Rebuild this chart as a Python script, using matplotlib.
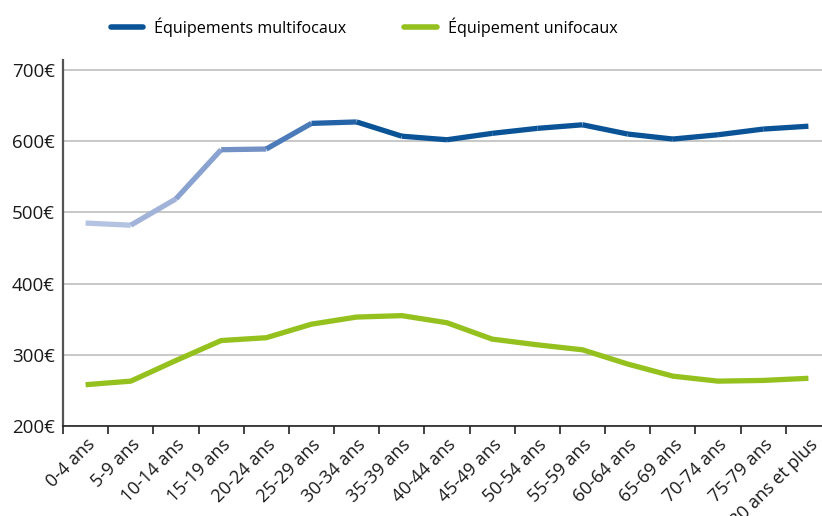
import matplotlib
matplotlib.use("Agg")
import matplotlib.pyplot as plt
from matplotlib.lines import Line2D

categories = ["0-4 ans", "5-9 ans", "10-14 ans", "15-19 ans", "20-24 ans", "25-29 ans",
              "30-34 ans", "35-39 ans", "40-44 ans", "45-49 ans", "50-54 ans", "55-59 ans",
              "60-64 ans", "65-69 ans", "70-74 ans", "75-79 ans", "80 ans et plus"]
multifocaux = [485, 482, 519, 588, 589, 625, 627, 607, 602, 611, 618, 623, 610, 603, 609, 617, 621]
unifocaux = [258, 263, 292, 320, 324, 343, 353, 355, 345, 322, 314, 307, 287, 270, 263, 264, 267]
yticks = [200, 300, 400, 500, 600, 700]
ytick_labels = ["200€", "300€", "400€", "500€", "600€", "700€"]
series_names = ["Équipements multifocaux", "Équipement unifocaux"]

dark_blue = "#0a5396"
green = "#95c11f"
seg_colors = ["#b4c3e1", "#a1b3d9", "#8aa2cf", "#7391c5", "#4b7bb9", "#2563a7"]

plt.rcParams['font.family'] = ['Open Sans', 'DejaVu Sans']

fig = plt.figure(figsize=(8.22, 5.16), dpi=100)
ax = fig.add_axes([63/822, 1-426/516, (831-63)/822, (426-60)/516])

x = list(range(len(categories)))
lw = 3.8
for i in range(len(x) - 1):
    c = seg_colors[i] if i < len(seg_colors) else dark_blue
    ax.plot(x[i:i+2], multifocaux[i:i+2], color=c, lw=lw, solid_capstyle='butt',
            solid_joinstyle='round', zorder=3)
ax.plot(x, unifocaux, color=green, lw=lw, solid_capstyle='butt', solid_joinstyle='round', zorder=3)

ax.set_xlim(-0.5, len(categories) - 0.5)
ax.set_ylim(200, 714)
ax.set_yticks(yticks)
ax.set_yticklabels(ytick_labels, fontsize=13.5, color="#1a1a1a")
ax.yaxis.grid(True, color="#c4c4c4", lw=1.3)
ax.set_axisbelow(True)
ax.tick_params(axis='y', length=0, pad=6)

ax.set_xticks([i - 0.5 for i in range(len(categories) + 1)], minor=False)
ax.set_xticklabels([])
ax.set_xticks(x, minor=True)
ax.set_xticklabels(categories, minor=True, rotation=45, ha='right', rotation_mode='anchor',
                   fontsize=13, color="#1a1a1a")
ax.tick_params(axis='x', which='major', length=6, width=1.2, color="#222222", direction='out')
ax.tick_params(axis='x', which='minor', length=0, pad=7)

for s in ["top", "right"]:
    ax.spines[s].set_visible(False)
ax.spines["left"].set_color("#555555")
ax.spines["left"].set_linewidth(1.6)
ax.spines["bottom"].set_color("#222222")
ax.spines["bottom"].set_linewidth(1.2)

handles = [Line2D([0], [0], color=dark_blue, lw=4, solid_capstyle='round'),
           Line2D([0], [0], color=green, lw=4, solid_capstyle='round')]
fig.legend(handles, series_names, loc='center', bbox_to_anchor=(0.443, 0.948), ncol=2,
           frameon=False, fontsize=11.6, handlelength=2.0, handletextpad=0.7, columnspacing=3.6)

fig.savefig("out.png", dpi=100)
